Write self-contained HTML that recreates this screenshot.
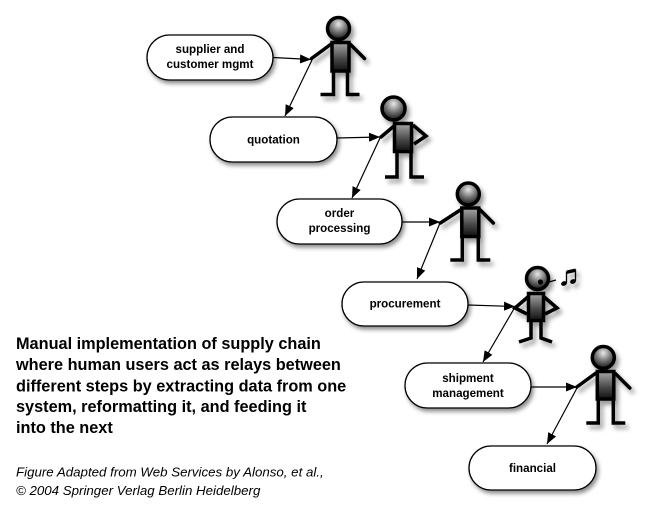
<!DOCTYPE html>
<html><head><meta charset="utf-8"><style>
html,body{margin:0;padding:0;background:#fff;}
svg{display:block;}
.lbl{font-family:"Liberation Sans",Arial,sans-serif;font-weight:bold;font-size:11.6px;fill:#000;}
.cap{font-family:"Liberation Sans",Arial,sans-serif;font-weight:bold;font-size:16.3px;fill:#000;}
.cred{font-family:"Liberation Sans",Arial,sans-serif;font-style:italic;font-size:13.3px;fill:#000;}
</style></head><body>
<svg width="653" height="514" viewBox="0 0 653 514" xmlns="http://www.w3.org/2000/svg">
<defs>
<filter id="sh" x="-30%" y="-30%" width="170%" height="170%">
<feDropShadow dx="2" dy="3" stdDeviation="2" flood-color="#000" flood-opacity="0.45"/>
</filter>
<filter id="fsh" x="-40%" y="-30%" width="190%" height="170%">
<feDropShadow dx="3" dy="4" stdDeviation="2.5" flood-color="#000" flood-opacity="0.4"/>
</filter>
<radialGradient id="hg" cx="0.5" cy="0.3" r="0.7">
<stop offset="0" stop-color="#e8e8e8"/>
<stop offset="0.5" stop-color="#777"/>
<stop offset="1" stop-color="#111"/>
</radialGradient>
<linearGradient id="bg" x1="0" y1="0" x2="0" y2="1">
<stop offset="0" stop-color="#a8a8a8"/>
<stop offset="0.6" stop-color="#444"/>
<stop offset="1" stop-color="#111"/>
</linearGradient>
<marker id="ah" markerUnits="userSpaceOnUse" markerWidth="11" markerHeight="9" refX="11" refY="4.5" orient="auto">
<path d="M0,0 L11,4.5 L0,9 z" fill="#000"/>
</marker>
</defs>

<!-- boxes -->
<g filter="url(#sh)" fill="#fff" stroke="#000" stroke-width="1.3">
<rect x="147" y="35" width="126" height="45" rx="22.5"/>
<rect x="210" y="117" width="127" height="45" rx="22.5"/>
<rect x="277" y="199" width="125" height="45" rx="22.5"/>
<rect x="342" y="282" width="126" height="44" rx="22"/>
<rect x="405" y="363" width="126" height="45" rx="22.5"/>
<rect x="469" y="446" width="127" height="44" rx="22"/>
</g>

<g class="lbl" text-anchor="middle">
<text x="210" y="53">supplier and</text>
<text x="210" y="68">customer mgmt</text>
<text x="273.5" y="143.5">quotation</text>
<text x="339.5" y="217">order</text>
<text x="339.5" y="232">processing</text>
<text x="405" y="307.5">procurement</text>
<text x="468" y="382">shipment</text>
<text x="468" y="397">management</text>
<text x="532.5" y="472">financial</text>
</g>

<!-- arrows -->
<g stroke="#000" stroke-width="1.2" fill="none" marker-end="url(#ah)">
<line x1="273" y1="57.5" x2="311" y2="59.5"/>
<line x1="312" y1="60" x2="285" y2="116"/>
<line x1="337" y1="138" x2="380" y2="137"/>
<line x1="380" y1="138" x2="352" y2="198"/>
<line x1="402" y1="222" x2="440" y2="222"/>
<line x1="440" y1="223" x2="417" y2="279"/>
<line x1="468" y1="305" x2="515" y2="306.5"/>
<line x1="515" y1="307" x2="483" y2="362"/>
<line x1="531" y1="387" x2="577" y2="387"/>
<line x1="577" y1="388" x2="547" y2="444"/>
</g>

<!-- standard figures -->
<g id="f1" transform="translate(338.5,28.5)" filter="url(#fsh)" stroke="#000" stroke-width="3.5">
<path d="M-8,16 L-27,30 M12,16 L26,30" stroke-linecap="round" fill="none"/>
<path d="M-5,42 V66 H-18 M9,42 V66 H21" fill="none"/>
<rect x="-6.5" y="14" width="17" height="28.5" fill="url(#bg)"/>
<circle cx="0" cy="0" r="11" fill="url(#hg)"/>
</g>
<g transform="translate(468.3,194)" filter="url(#fsh)" stroke="#000" stroke-width="3.5">
<path d="M-8,16 L-28,29 M12,16 L25,29" stroke-linecap="round" fill="none"/>
<path d="M-6,42 V66 H-18 M10,42 V66 H22" fill="none"/>
<rect x="-6.5" y="14" width="17" height="28.5" fill="url(#bg)"/>
<circle cx="0" cy="0" r="11" fill="url(#hg)"/>
</g>
<g transform="translate(603.3,357.5)" filter="url(#fsh)" stroke="#000" stroke-width="3.5">
<path d="M-8,16 L-26.5,29.5 M12,16 L26.5,30.5" stroke-linecap="round" fill="none"/>
<path d="M-5,41 V65.5 H-17 M10,41 V65.5 H22" fill="none"/>
<rect x="-6" y="14" width="16.5" height="27.5" fill="url(#bg)"/>
<circle cx="0" cy="0" r="11" fill="url(#hg)"/>
</g>

<!-- figure 2: hand on hip -->
<g filter="url(#fsh)" stroke="#000" stroke-width="3.5" fill="none">
<path d="M394,126 L381,137" stroke-linecap="round"/>
<path d="M413,125 L426,136 L414,144" stroke-linejoin="miter"/>
<path d="M397,152 V177 H385 M411,152 V177 H424"/>
<rect x="394.5" y="123.5" width="17" height="28" fill="url(#bg)"/>
<circle cx="393.5" cy="108.5" r="11.5" fill="url(#hg)"/>
</g>

<!-- figure 4: whistling -->
<g filter="url(#fsh)" stroke="#000" stroke-width="3.5" fill="none">
<path d="M529,296 L515,308 L527,314"/>
<path d="M543,296 L557,308 L545,314"/>
<path d="M531,320 V338 L519,342 M541,320 V338 L552,342"/>
<rect x="528.5" y="293.5" width="15" height="27" fill="url(#bg)"/>
<circle cx="537.5" cy="278.5" r="11" fill="url(#hg)"/>
</g>
<circle cx="540.5" cy="282" r="2.6" fill="#000"/>
<line x1="549" y1="282" x2="556" y2="280" stroke="#000" stroke-width="1.3"/>
<g filter="url(#fsh)" fill="#000" stroke="#000">
<ellipse cx="564" cy="283.5" rx="3" ry="2.3" transform="rotate(-20 564 283.5)" stroke="none"/>
<ellipse cx="573" cy="281.5" rx="3" ry="2.3" transform="rotate(-20 573 281.5)" stroke="none"/>
<line x1="566.5" y1="283" x2="566.5" y2="271.5" stroke-width="1.3"/>
<line x1="575.5" y1="281" x2="575.5" y2="269.5" stroke-width="1.3"/>
<path d="M566.5,270.5 L575.5,268.5 L575.5,272 L566.5,274 z" stroke="none"/>
</g>

<!-- caption -->
<g class="cap">
<text x="16" y="349">Manual implementation of supply chain</text>
<text x="16" y="370">where human users act as relays between</text>
<text x="16" y="391.5">different steps by extracting data from one</text>
<text x="16" y="412">system, reformatting it, and feeding it</text>
<text x="16" y="433">into the next</text>
</g>
<g class="cred">
<text x="16" y="476.5">Figure Adapted from Web Services by Alonso, et al.,</text>
<text x="16" y="495">© 2004 Springer Verlag Berlin Heidelberg</text>
</g>
</svg>
</body></html>
